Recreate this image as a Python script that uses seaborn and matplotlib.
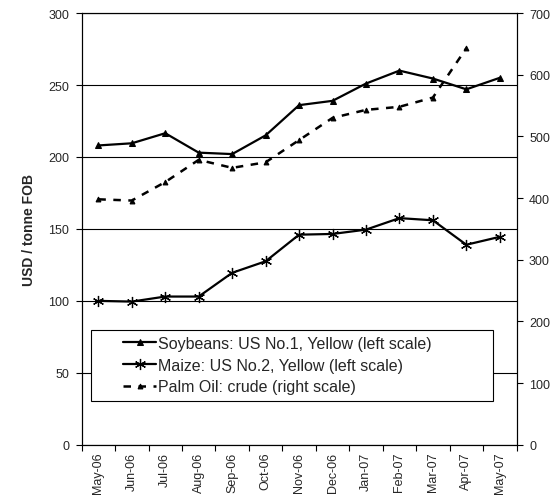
import pandas as pd
import matplotlib.pyplot as plt
import matplotlib.patches as mpatches
import seaborn as sns

# Data
MONTHS = ["May-06", "Jun-06", "Jul-06", "Aug-06", "Sep-06", "Oct-06", "Nov-06",
          "Dec-06", "Jan-07", "Feb-07", "Mar-07", "Apr-07", "May-07"]
SOYBEANS = [208, 209.5, 216.5, 203, 202, 215, 236, 239, 251, 260, 254.5, 247, 255]
MAIZE = [100, 99.5, 103, 103, 119.5, 127.5, 146, 146.5, 149.5, 157.5, 156, 139, 144.5]
PALM_OIL = [398, 396, 426, 462, 449, 458, 494, 530, 543, 548, 563, 643]  # ends Apr-07

sns.set_style("ticks")
plt.rcParams["font.family"] = ["Liberation Sans", "DejaVu Sans"]

pos = list(range(len(MONTHS)))
df_left = pd.DataFrame({"pos": pos, "soy": SOYBEANS, "maize": MAIZE})
df_right = pd.DataFrame({"pos": pos[:len(PALM_OIL)], "palm": PALM_OIL})

fig = plt.figure(figsize=(5.59, 5.02), dpi=100)
ax = fig.add_axes([0.146, 0.112, 0.778, 0.860])
ax2 = ax.twinx()

sns.lineplot(data=df_left, x="pos", y="soy", ax=ax, color="black", lw=1.6,
             marker="^", markersize=5, markeredgecolor="black",
             label="Soybeans: US No.1, Yellow (left scale)")
sns.lineplot(data=df_left, x="pos", y="maize", ax=ax, color="black", lw=1.6,
             marker=(6, 2, 0), markersize=8, markeredgewidth=0.9, markeredgecolor="black",
             label="Maize: US No.2, Yellow (left scale)")
sns.lineplot(data=df_right, x="pos", y="palm", ax=ax2, color="black", lw=1.8,
             linestyle=(0, (3, 3)), marker="^", markersize=3.5, markeredgecolor="black",
             label="Palm Oil: crude (right scale)")

ax.set_xlim(-0.5, len(MONTHS) - 0.5)
ax.set_ylim(0, 300)
ax2.set_ylim(0, 700)
ax.set_yticks(range(0, 301, 50))
ax2.set_yticks(range(0, 701, 100))
ax.yaxis.grid(True, color="black", lw=0.8)
ax.set_axisbelow(True)

ax.set_xticks(pos)
ax.set_xticklabels(MONTHS, rotation=90, fontsize=9)
ax.set_xticks([p + 0.5 for p in pos[:-1]] + [-0.5, len(MONTHS) - 0.5], minor=True)
ax.tick_params(axis="x", which="major", length=0, pad=5)
ax.tick_params(axis="x", which="minor", length=4, width=0.8, color="black")
ax.tick_params(axis="y", labelsize=9, length=4, width=0.8, color="black", pad=5)
ax2.tick_params(axis="y", labelsize=9, length=4, width=0.8, color="black", pad=5)

ax.set_xlabel("")
ax.set_ylabel("USD / tonne FOB", fontsize=10, fontweight="bold", labelpad=9)
ax2.set_ylabel("")

for a in (ax, ax2):
    for s in a.spines.values():
        s.set_color("black")
        s.set_linewidth(0.8)

# legend frame drawn as its own box (wide, with the entries indented)
box = mpatches.Rectangle((0.021, 0.1025), 0.924, 0.164, transform=ax2.transAxes,
                         facecolor="white", edgecolor="black", lw=0.8, zorder=5)
ax2.add_patch(box)

h1, l1 = ax.get_legend_handles_labels()
h2, l2 = ax2.get_legend_handles_labels()
ax.get_legend().remove()
ax2.get_legend().remove()
leg = ax2.legend(h1 + h2, l1 + l2, loc="center left",
                 bbox_to_anchor=(0.095, 0.1845),
                 fontsize=11.5, frameon=False, borderpad=0, borderaxespad=0,
                 handlelength=2.1, handletextpad=0.1, labelspacing=0.42)
leg.set_zorder(6)

fig.savefig("out.png", dpi=100)
